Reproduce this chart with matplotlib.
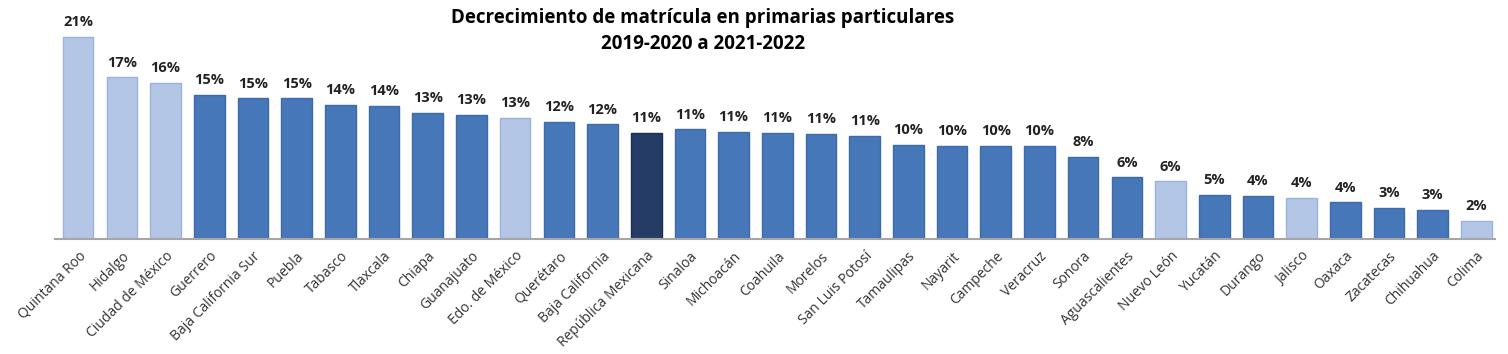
import matplotlib.pyplot as plt

estados = ["Quintana Roo", "Hidalgo", "Ciudad de México", "Guerrero", "Baja California Sur",
           "Puebla", "Tabasco", "Tlaxcala", "Chiapa", "Guanajuato", "Edo. de México",
           "Querétaro", "Baja California", "República Mexicana", "Sinaloa", "Michoacán",
           "Coahuila", "Morelos", "San Luis Potosí", "Tamaulipas", "Nayarit", "Campeche",
           "Veracruz", "Sonora", "Aguascalientes", "Nuevo León", "Yucatán", "Durango",
           "Jalisco", "Oaxaca", "Zacatecas", "Chihuahua", "Colima"]
decrecimiento = [21.0, 16.8, 16.2, 15.0, 14.6, 14.6, 13.9, 13.8, 13.1, 12.9, 12.6,
                 12.2, 11.9, 11.0, 11.4, 11.1, 11.0, 10.9, 10.7, 9.8, 9.7, 9.7,
                 9.7, 8.5, 6.4, 6.0, 4.6, 4.5, 4.3, 3.8, 3.2, 3.0, 1.9]
claros = ["Quintana Roo", "Hidalgo", "Ciudad de México", "Edo. de México",
          "Nuevo León", "Jalisco", "Colima"]

colores = []
bordes = []
for e in estados:
    if e == "República Mexicana":
        colores.append("#253c66")
        bordes.append("#1c2f52")
    elif e in claros:
        colores.append("#b3c6e6")
        bordes.append("#9ab2dc")
    else:
        colores.append("#4677b8")
        bordes.append("#3d6aa8")

plt.rcParams['font.family'] = ['Open Sans', 'DejaVu Sans']

fig = plt.figure(figsize=(15.08, 3.54), dpi=100)
ax = fig.add_axes([0.0365, 0.325, 0.955, 0.59])

x = range(len(estados))
bars = ax.bar(x, decrecimiento, width=0.7, color=colores, edgecolor=bordes, linewidth=1)

for b, v in zip(bars, decrecimiento):
    ax.text(b.get_x() + b.get_width() / 2, v + 0.8, f"{round(v):.0f}%",
            ha='center', va='bottom', fontsize=10.5, fontweight='bold', color='#222222')

ax.set_xlim(-0.53, len(estados) - 0.57)
ax.set_ylim(0, 21.7)
ax.set_xticks(list(x))
ax.set_xticklabels(estados, rotation=45, ha='right', rotation_mode='anchor',
                   fontsize=10, color='#333333')
ax.tick_params(axis='x', length=0, pad=7)
ax.set_yticks([])
for s in ['top', 'right', 'left']:
    ax.spines[s].set_visible(False)
ax.spines['bottom'].set_color('#a6a6a6')
ax.spines['bottom'].set_linewidth(1.5)

fig.text(0.466, 0.95, "Decrecimiento de matrícula en primarias particulares",
         ha='center', va='center', fontsize=13.5, fontweight='bold')
fig.text(0.466, 0.875, "2019-2020 a 2021-2022",
         ha='center', va='center', fontsize=13.5, fontweight='bold')

fig.savefig("out.png", dpi=100)
